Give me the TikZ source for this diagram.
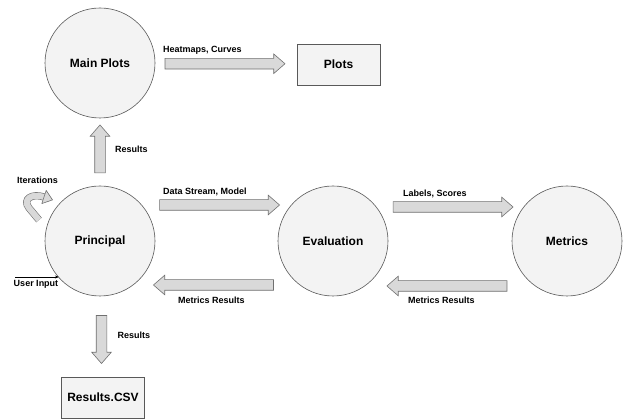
\documentclass[tikz,border=0pt]{standalone}
\usepackage{fontspec}
\setmainfont{Liberation Sans}
\usetikzlibrary{shapes.arrows,positioning,calc,arrows.meta}
\definecolor{nodefill}{HTML}{F3F3F3}
\definecolor{nodeline}{HTML}{595959}
\definecolor{blkfill}{HTML}{D9D9D9}
\definecolor{blkline}{HTML}{707070}

\begin{document}
\begin{tikzpicture}[
x=1pt,y=-1pt,
proc/.style={
  draw=nodeline,
  fill=nodefill,
  circle,
  line width=0.6pt,
  minimum size=110pt,
  inner sep=0pt,
  font=\fontsize{12}{14}\selectfont\bfseries
},
store/.style={
  draw=nodeline,
  fill=nodefill,
  line width=0.8pt,
  minimum width=83pt,
  minimum height=41pt,
  font=\fontsize{12}{14}\selectfont\bfseries
},
flow/.style={
  single arrow,
  draw=blkline,
  fill=blkfill,
  line width=0.6pt,
  minimum width=19pt,
  minimum height=120pt,
  inner xsep=0pt,
  inner ysep=5pt,
  single arrow head extend=4.5pt,
  single arrow tip angle=82
},
lbl/.style={
  font=\fontsize{9}{11}\selectfont\bfseries,
  inner sep=0pt,
  anchor=west
}
]
\useasboundingbox (0,0) rectangle (624,419);

\node[proc] (mainplots) at (100,63) {Main Plots};
\node[proc] (principal) at (100,241) {Principal};
\node[proc] (evaluation) at (333,241) {Evaluation};
\node[proc] (metrics) at (567,241) {Metrics};
\node[store] (plots) at (338.5,64.5) {Plots};
\node[store] (csv) at (103,397.5) {Results.CSV};

% block arrows
\node[flow] (hc) at ($(mainplots.east)!.5!(plots.west)+(-4,0)$) {};
\node[flow,minimum height=48pt,rotate=90] (up)
  at ($(mainplots.south)!.5!(principal.north)$) {};
\node[flow] (ds) at ($(principal.east)!.5!(evaluation.west)+(0,-36)$) {};
\node[flow,rotate=180] (mr1) at ($(principal.east)!.5!(evaluation.west)+(0,44)$) {};
\node[flow] (ls) at ($(evaluation.east)!.5!(metrics.west)+(0,-34)$) {};
\node[flow,rotate=180] (mr2) at ($(evaluation.east)!.5!(metrics.west)+(0,45)$) {};
\node[flow,minimum height=48pt,rotate=-90] (down)
  at ($(principal.south)!.5!(csv.north)$) {};

\node[lbl] (hcl) at ([shift={(-59,-13)}]hc) {Heatmaps, Curves};
\node[lbl] (upl) at ([shift={(15,-3)}]up) {Results};
\node[lbl] (dsl) at ([shift={(-53.5,-13)}]ds) {Data Stream, Model};
\node[lbl] (lsl) at ([shift={(-47,-13)}]ls) {Labels, Scores};
\node[lbl] (mr1l) at ([shift={(-38.5,15)}]mr1) {Metrics Results};
\node[lbl] (mr2l) at ([shift={(-42,14)}]mr2) {Metrics Results};
\node[lbl] (downl) at ([shift={(16,-1)}]down) {Results};

% iterations loop
\node[lbl,anchor=center] (iter) at (37.5,180) {Iterations};
\draw[draw=blkline,double=blkfill,double distance=6pt,line width=0.6pt]
  (39,220) -- (29,208) .. controls (22,199) and (32,193) .. (44,197);
\filldraw[draw=blkline,fill=blkfill,line width=0.6pt,line join=round]
  (46.2,190.4) -- (52.5,199.9) -- (41.8,203.6) -- cycle;

% user input
\coordinate (uin) at (15,277);
\draw[line width=0.5pt,-{Stealth[length=4pt,width=3pt]}] (uin) -- (uin -| principal.222);
\node[lbl,anchor=center] (uinl) at (36,284.5) {User Input};
\end{tikzpicture}
\end{document}
